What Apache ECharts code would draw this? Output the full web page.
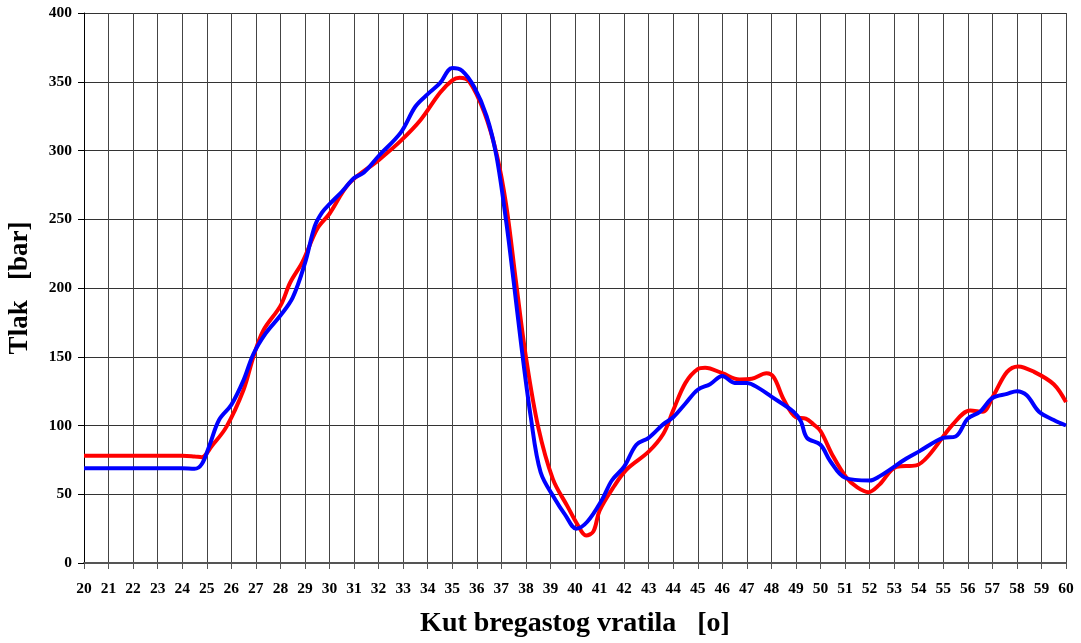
<!DOCTYPE html>
<html>
<head>
<meta charset="utf-8">
<script src="https://cdn.jsdelivr.net/npm/echarts@6/dist/echarts.min.js"></script>
<style>html,body{margin:0;padding:0;background:#fff}#c{width:1081px;height:643px}</style>
</head>
<body>
<div id="c"></div>
<script>
var xTitle = 'Kut bregastog vratila   [o]';
var yTitle = 'Tlak   [bar]';
var redX = [20,21,22,23,24,24.5,24.8,25.2,25.8,26.5,26.9,27.3,28,28.4,28.9,29.5,30,30.8,32,32.9,33.7,34.5,35,35.3,35.7,36.3,36.8,37.2,37.6,38,38.5,39.1,39.7,40.1,40.45,40.75,41,41.6,42.1,43,43.6,44,44.5,45,45.3,46,46.7,47.2,47.8,48.1,48.5,49,49.4,49.7,50,50.5,51.06,51.5,51.95,52.4,53.1,53.9,54.4,55.4,56.1,56.6,57.05,57.6,58.05,58.7,59.5,60];
var redY = [78,78,78,78,78,77.5,77,85,99,126,150,169,187,204,219,243,254,276,293,307,322,342,351,353,350,328,298,260,204,150,99,61,41,28,20,23,38,56,68,81,94,111,131,141,142,138,133.5,134,138,135,119,106,105,101,96,78,62,55,51.5,57,70,71,78,101,111,110,122,139,143,139,130,117];
var blueX = [20,21,22,23,24,24.5,24.8,25.1,25.5,26,26.5,26.9,27.4,28,28.5,29,29.4,29.7,30,30.5,31,31.4,32,32.9,33.5,34,34.5,35,35.4,35.9,36.4,36.8,37.2,37.5,37.8,38.2,38.6,39.2,39.6,40.05,40.5,41.1,41.5,42,42.5,43,43.6,44,44.5,45,45.5,46,46.5,47,47.5,48,48.9,49.2,49.45,50,50.4,51,52,52.4,53.5,54,55,55.5,56,56.5,57,57.6,58,58.4,58.9,59.5,60];
var blueY = [69,69,69,69,69,68.5,72,85,104,115,133,152,167,180,193,218,245,255,261,270,280,284,296,313,332,341,349,360,358,346,325,296,248,205,160,106,66,46,35,25,30,46,60,70,86,91,101,106,116,126,130,136,131,131,127,121,110,103,91,86,74,62,60,63,76,81,91,92,105,110,120,123,125,122,110,104,100];

function pairs(xs, ys){ return xs.map(function(x,i){ return [x, ys[i]]; }); }

var chart = echarts.init(document.getElementById('c'), null, {renderer:'canvas'});
var labelFont = {fontFamily:'Liberation Serif', fontWeight:'bold', fontSize:15.5, color:'#000'};
chart.setOption({
  animation:false,
  backgroundColor:'#fff',
  grid:{left:84, right:15, top:13, bottom:80, containLabel:false, outerBoundsMode:'none'},
  xAxis:{
    type:'value', min:20, max:60, interval:1,
    name:xTitle, nameLocation:'middle', nameGap:47,
    nameTextStyle:{fontFamily:'Liberation Serif', fontWeight:'bold', fontSize:28, color:'#000'},
    axisLine:{show:true, onZero:false, lineStyle:{color:'#555', width:2}},
    axisTick:{show:true, length:6, lineStyle:{color:'#555', width:1}},
    axisLabel:Object.assign({margin:18}, labelFont),
    splitLine:{show:true, lineStyle:{color:'#444', width:1}}
  },
  yAxis:{
    type:'value', min:0, max:400, interval:50,
    name:yTitle, nameLocation:'middle', nameGap:50,
    nameTextStyle:{fontFamily:'Liberation Serif', fontWeight:'bold', fontSize:27, color:'#000'},
    axisLine:{show:true, lineStyle:{color:'#000', width:1}},
    axisTick:{show:true, length:6, lineStyle:{color:'#000', width:1}},
    axisLabel:Object.assign({margin:12}, labelFont),
    splitLine:{show:true, lineStyle:{color:'#333', width:1}}
  },
  series:[
    {type:'line', name:'red', data:pairs(redX, redY), smooth:0.35, showSymbol:false, lineStyle:{color:'#ff0000', width:4}, z:3},
    {type:'line', name:'blue', data:pairs(blueX, blueY), smooth:0.35, showSymbol:false, lineStyle:{color:'#0000ff', width:4}, z:4}
  ]
});
</script>
</body>
</html>
